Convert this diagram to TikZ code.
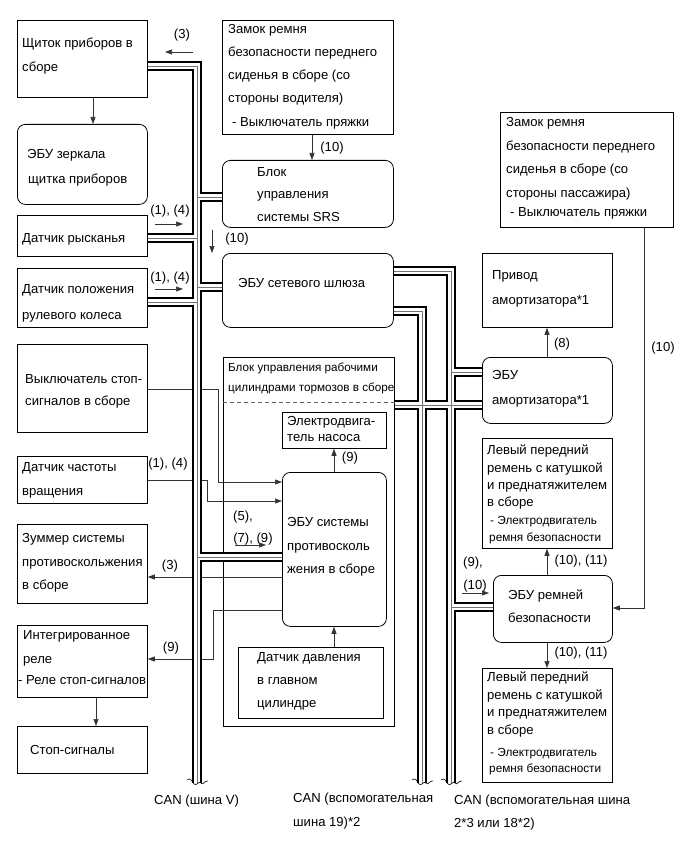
\documentclass[tikz,border=0pt]{standalone}
\usepackage{fontspec}
\setmainfont{Liberation Sans}
\usetikzlibrary{arrows.meta}
\newcounter{tl}
\newcommand\Tx[4][txt]{\stepcounter{tl}\node[#1] (t\arabic{tl}) at (#2,#3) {#4};}
\newcommand\Lb[3]{\stepcounter{tl}\node[lab] (t\arabic{tl}) at (#1,#2) {#3};}
\begin{document}
\begin{tikzpicture}[x=1pt,y=-1pt,
  box/.style={draw, line width=0.8pt, inner sep=0pt, anchor=north west},
  rbox/.style={box, rounded corners=8pt},
  txt/.style={inner sep=0pt, anchor=base west, font=\fontsize{13.1}{15}\selectfont},
  stxt/.style={txt, font=\fontsize{11.8}{13}\selectfont},
  btxt/.style={txt, font=\fontsize{11.7}{13}\selectfont},
  lab/.style={inner sep=0pt, anchor=base, font=\fontsize{13.1}{15}\selectfont},
  wire/.style={line width=0.6pt, black!80},
  arr/.style={wire, -{Triangle[length=7pt,width=5pt]}},
  busB/.style={line width=10.5pt, line join=miter, black},
  busW/.style={line width=6.3pt, line join=miter, white},
  busC/.style={line width=0.7pt, black!55},
  wv/.style={line width=0.6pt, black}
]
\useasboundingbox (0,0) rectangle (689,853);

% ---------- boxes ----------
\node[box,  minimum width=130pt, minimum height=77pt]  (shch) at (17,20) {};
\node[rbox, minimum width=130pt, minimum height=80pt]  (zerk) at (17,124) {};
\node[box,  minimum width=130pt, minimum height=41pt]  (ryk)  at (17,215) {};
\node[box,  minimum width=130pt, minimum height=59pt]  (rul)  at (17,268) {};
\node[box,  minimum width=130pt, minimum height=88pt]  (vykl) at (17,344) {};
\node[box,  minimum width=130pt, minimum height=47pt]  (chast) at (17,456) {};
\node[box,  minimum width=130pt, minimum height=79pt]  (zum)  at (17,524) {};
\node[box,  minimum width=130pt, minimum height=72pt]  (rele) at (17,625) {};
\node[box,  minimum width=130pt, minimum height=47pt]  (stop) at (17,726) {};

\node[box,  minimum width=171pt, minimum height=114pt] (zd)   at (222,20) {};
\node[rbox, minimum width=171pt, minimum height=67pt]  (srs)  at (222,160) {};
\node[rbox, minimum width=171pt, minimum height=74pt]  (shl)  at (222,253) {};
\node[box,  minimum width=171pt, minimum height=369pt] (big)  at (223,357) {};
\node[box,  minimum width=104pt, minimum height=36pt]  (nas)  at (282,412) {};
\node[rbox, minimum width=104pt, minimum height=154pt] (abs)  at (282,472) {};
\node[box,  minimum width=145pt, minimum height=71pt]  (dav)  at (238,647) {};

\node[box,  minimum width=173pt, minimum height=115pt] (zp)   at (500,112) {};
\node[box,  minimum width=130pt, minimum height=74pt]  (priv) at (482,253) {};
\node[rbox, minimum width=130pt, minimum height=66pt]  (amo)  at (482,357) {};
\node[box,  minimum width=130pt, minimum height=110pt] (lv1)  at (482,438) {};
\node[rbox, minimum width=119pt, minimum height=67pt]  (rem)  at (493,575) {};
\node[box,  minimum width=130pt, minimum height=114pt] (lv2)  at (482,668) {};

\draw[dashed, black!60, line width=0.5pt, dash pattern=on 4pt off 3pt] (big.west |- 0,402) -- (big.east |- 0,402);

% ---------- texts ----------
\Tx{22}{48}{Щиток приборов в}
\Tx{22}{72}{сборе}
\Tx{27}{159}{ЭБУ зеркала}
\Tx{28}{183}{щитка приборов}
\Tx{22}{242}{Датчик рысканья}
\Tx{22}{293}{Датчик положения}
\Tx{22}{319}{рулевого колеса}
\Tx{25}{383}{Выключатель стоп-}
\Tx{25}{405}{сигналов в сборе}
\Tx{22}{471}{Датчик частоты}
\Tx{22}{495}{вращения}
\Tx{22}{542}{Зуммер системы}
\Tx{22}{566}{противоскольжения}
\Tx{22}{589}{в сборе}
\Tx{23}{639}{Интегрированное}
\Tx{23}{663}{реле}
\Tx{18}{684}{- Реле стоп-сигналов}
\Tx{30}{754}{Стоп-сигналы}

\Tx{228}{34}{Замок ремня}
\Tx{228}{57}{безопасности переднего}
\Tx{228}{80}{сиденья в сборе (со}
\Tx{228}{103}{стороны водителя)}
\Tx{232}{127}{- Выключатель пряжки}
\Tx{257}{176}{Блок}
\Tx{257}{198}{управления}
\Tx{257}{221}{системы SRS}
\Tx{238}{287}{ЭБУ сетевого шлюза}
\Tx[btxt]{228}{371}{Блок управления рабочими}
\Tx[btxt]{228}{391}{цилиндрами тормозов в сборе}
\Tx{287}{425}{Электродвига-}
\Tx{287}{441}{тель насоса}
\Tx{287}{526}{ЭБУ системы}
\Tx{287}{550}{противосколь}
\Tx{287}{573}{жения в сборе}
\Tx{257}{661}{Датчик давления}
\Tx{257}{684}{в главном}
\Tx{257}{707}{цилиндре}

\Tx{506}{127}{Замок ремня}
\Tx{506}{151}{безопасности переднего}
\Tx{506}{174}{сиденья в сборе (со}
\Tx{506}{197}{стороны пассажира)}
\Tx{510}{216}{- Выключатель пряжки}
\Tx{492}{279}{Привод}
\Tx{492}{304}{амортизатора*1}
\Tx{492}{379}{ЭБУ}
\Tx{492}{404}{амортизатора*1}
\Tx{487}{454}{Левый передний}
\Tx{487}{472}{ремень с катушкой}
\Tx{487}{489}{и преднатяжителем}
\Tx{487}{506}{в сборе}
\Tx[stxt]{490}{524}{- Электродвигатель}
\Tx[stxt]{489}{541}{ремня безопасности}
\Tx{508}{599}{ЭБУ ремней}
\Tx{508}{622}{безопасности}
\Tx{487}{681}{Левый передний}
\Tx{487}{699}{ремень с катушкой}
\Tx{487}{716}{и преднатяжителем}
\Tx{487}{734}{в сборе}
\Tx[stxt]{490}{756}{- Электродвигатель}
\Tx[stxt]{489}{772}{ремня безопасности}

\Tx{154}{804}{CAN (шина V)}
\Tx{293}{802}{CAN (вспомогательная}
\Tx{293}{826}{шина 19)*2}
\Tx{454}{804}{CAN (вспомогательная шина}
\Tx{454}{827}{2*3 или 18*2)}

% ---------- labels ----------
\Lb{182}{39}{(3)}
\Lb{170}{214}{(1), (4)}
\Lb{170}{281}{(1), (4)}
\Lb{332}{152}{(10)}
\Lb{237}{242}{(10)}
\Lb{350}{461}{(9)}
\Lb{168}{467}{(1), (4)}
\Lb{243}{520}{(5),}
\Lb{253}{542}{(7), (9)}
\Lb{170}{569}{(3)}
\Lb{171}{651}{(9)}
\Lb{562}{347}{(8)}
\Lb{663}{351}{(10)}
\Lb{581}{564}{(10), (11)}
\Lb{581}{656}{(10), (11)}
\Lb{473}{566}{(9),}
\Lb{475}{589}{(10)}

% ---------- thin connectors ----------
\coordinate (fa1) at (193,52);  \coordinate (fb1) at (165,52);
\coordinate (fa2) at (155,224); \coordinate (fb2) at (183,224);
\coordinate (fa3) at (155,289); \coordinate (fb3) at (183,289);
\coordinate (fa4) at (212,230); \coordinate (fb4) at (212,253);
\coordinate (fa5) at (235,545); \coordinate (fb5) at (266,545);
\coordinate (fa6) at (462,593); \coordinate (fb6) at (489,593);
\draw[arr] (fa1) -- (fb1);
\draw[arr] (fa2) -- (fb2);
\draw[arr] (fa3) -- (fb3);
\draw[arr] (fa4) -- (fb4);
\draw[arr] (fa5) -- (fb5);
\draw[arr] (fa6) -- (fb6);

\draw[arr] (shch.south -| 93,0) -- (zerk.north -| 93,0);
\draw[arr] (rele.south -| 96,0) -- (stop.north -| 96,0);
\draw[arr] (zd.south -| 312,0) -- (srs.north -| 312,0);
\draw[arr] (abs.north -| 334,0) -- (nas.south -| 334,0);
\draw[arr] (dav.north -| 334,0) -- (abs.south -| 334,0);
\draw[arr] (amo.north -| 547,0) -- (priv.south -| 547,0);
\draw[arr] (rem.north -| 547,0) -- (lv1.south -| 547,0);
\draw[arr] (rem.south -| 547,0) -- (lv2.north -| 547,0);
\draw[arr] (zp.south -| 644,0) -- (644,608) -- (rem.east |- 0,608);
\draw[arr] (vykl.east |- 0,389) -- (218,389) -- (218,482) -- (abs.west |- 0,482);
\draw[arr] (chast.east |- 0,480) -- (207,480) -- (207,501) -- (abs.west |- 0,501);
\draw[arr] (abs.west |- 0,577) -- (zum.east |- 0,577);
\draw[arr] (abs.west |- 0,610) -- (213,610) -- (213,659) -- (rele.east |- 0,659);

% ---------- CAN buses ----------
\def\busV{(shch.east |- 0,66) -- (197,66) -- (197,783)
  (197,197) -- (srs.west |- 0,197)
  (197,238) -- (ryk.east |- 0,238)
  (197,287) -- (shl.west |- 0,287)
  (197,302) -- (rul.east |- 0,302)
  (197,557) -- (abs.west |- 0,557)}
\def\busA{(shl.east |- 0,311) -- (422,311) -- (422,783)
  (big.east |- 0,405) -- (amo.west |- 0,405)}
\def\busB{(shl.east |- 0,271) -- (451,271) -- (451,783)
  (451,372) -- (amo.west |- 0,372)
  (451,607) -- (rem.west |- 0,607)}
\draw[busB] \busV;  \draw[busB] \busA;  \draw[busB] \busB;
\draw[busW] \busV;  \draw[busW] \busA;  \draw[busW] \busB;
\draw[busC] \busV;  \draw[busC] \busA;  \draw[busC] \busB;

\foreach \xx in {197,422,451}{
  \draw[wv] (\xx-10,780) .. controls (\xx-7,777) and (\xx-5,781) .. (\xx-3,784)
            .. controls (\xx-1,787) and (\xx+2,780) .. (\xx+4,783)
            .. controls (\xx+6,786) and (\xx+8,780) .. (\xx+11,781);
}
\end{tikzpicture}
\end{document}
